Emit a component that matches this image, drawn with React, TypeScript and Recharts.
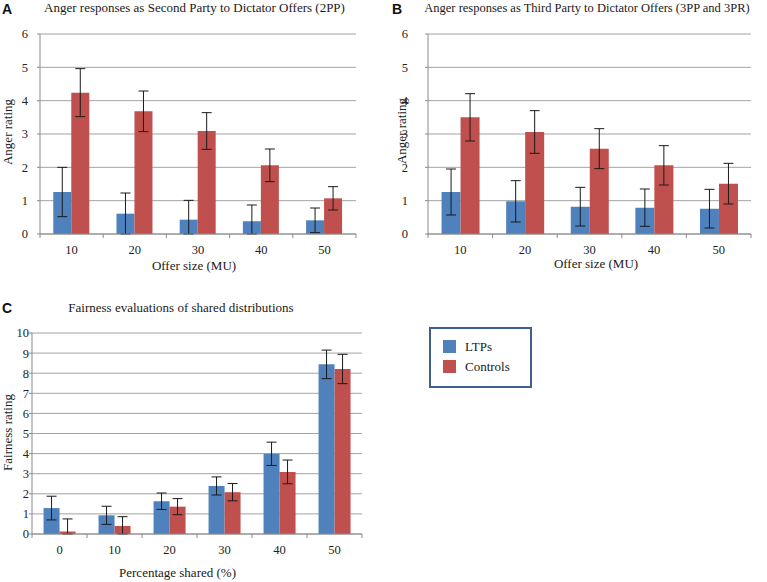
import { Bar, BarChart, CartesianGrid, ErrorBar, XAxis, YAxis } from "recharts";

const BLUE = "#4f81bd";
const RED = "#c0504d";
const GRID = "#a3a3a3";
const AXIS = "#8a8a8a";
const FONT = "'Liberation Serif', 'Times New Roman', serif";

const offerSizes = ["10", "20", "30", "40", "50"];
const sharedPct = ["0", "10", "20", "30", "40", "50"];

// A: second party anger
const ltpSecond = [1.26, 0.61, 0.43, 0.38, 0.41];
const ltpSecondErr = [0.74, 0.62, 0.58, 0.49, 0.37];
const ctrlSecond = [4.24, 3.68, 3.09, 2.06, 1.07];
const ctrlSecondErr = [0.72, 0.61, 0.55, 0.49, 0.35];

// B: third party anger
const ltpThird = [1.26, 0.98, 0.82, 0.79, 0.76];
const ltpThirdErr = [0.69, 0.62, 0.58, 0.56, 0.58];
const ctrlThird = [3.5, 3.06, 2.56, 2.06, 1.51];
const ctrlThirdErr = [0.71, 0.64, 0.6, 0.59, 0.61];

// C: fairness
const ltpFair = [1.29, 0.93, 1.63, 2.39, 3.99, 8.44];
const ltpFairErr = [0.59, 0.45, 0.41, 0.45, 0.58, 0.71];
const ctrlFair = [0.13, 0.4, 1.36, 2.08, 3.09, 8.21];
const ctrlFairErr = [0.62, 0.46, 0.4, 0.43, 0.59, 0.73];

const angerTicks = [0, 1, 2, 3, 4, 5, 6];
const fairTicks = [0, 1, 2, 3, 4, 5, 6, 7, 8, 9, 10];

function rows(cats: string[], ltp: number[], ltpErr: number[], ctrl: number[], ctrlErr: number[]) {
  return cats.map((cat, i) => ({ cat, ltp: ltp[i], ltpErr: ltpErr[i], ctrl: ctrl[i], ctrlErr: ctrlErr[i] }));
}

// whiskers stop at the axis, like the original plot
const clipped = (v: string, e: string) => (d: any) => [Math.min(d[e], d[v]), d[e]];

type PanelProps = {
  left: number;
  top: number;
  width: number;
  height: number;
  margin: { top: number; right: number; left: number; bottom: number };
  yWidth: number;
  xHeight: number;
  data: ReturnType<typeof rows>;
  yMax: number;
  ticks: number[];
  yGap: number;
};

function Panel({ left, top, width, height, margin, yWidth, xHeight, data, yMax, ticks, yGap }: PanelProps) {
  const plotW = width - margin.left - margin.right - yWidth;
  const bw = plotW / data.length;
  const n = data.length;

  const xTick = (props: any) => {
    const { x, y, payload, index } = props;
    return (
      <g>
        <line x1={x - bw / 2} x2={x - bw / 2} y1={y} y2={y + 4} stroke={AXIS} />
        {index === n - 1 && <line x1={x + bw / 2} x2={x + bw / 2} y1={y} y2={y + 4} stroke={AXIS} />}
        <text x={x} y={y + 20} textAnchor="middle" fontFamily={FONT} fontSize={12.5} fill="#222">
          {payload.value}
        </text>
      </g>
    );
  };

  return (
    <div style={{ position: "absolute", left, top }}>
      <BarChart width={width} height={height} data={data} margin={margin} barCategoryGap="21%" barGap={0}>
        <CartesianGrid vertical={false} stroke={GRID} />
        <XAxis
          dataKey="cat"
          height={xHeight}
          interval={0}
          tickSize={0}
          tickMargin={0}
          tickLine={false}
          axisLine={{ stroke: AXIS }}
          tick={xTick}
        />
        <YAxis
          type="number"
          width={yWidth}
          domain={[0, yMax]}
          ticks={ticks}
          interval={0}
          allowDataOverflow
          tickSize={3}
          tickMargin={yGap}
          axisLine={{ stroke: AXIS }}
          tickLine={{ stroke: AXIS }}
          tick={{ fontFamily: FONT, fontSize: 12.5, fill: "#222" }}
        />
        <Bar dataKey="ltp" fill={BLUE} isAnimationActive={false}>
          <ErrorBar dataKey={clipped("ltp", "ltpErr")} width={5} stroke="#1a1a1a" strokeWidth={1} direction="y" isAnimationActive={false} />
        </Bar>
        <Bar dataKey="ctrl" fill={RED} isAnimationActive={false}>
          <ErrorBar dataKey={clipped("ctrl", "ctrlErr")} width={5} stroke="#1a1a1a" strokeWidth={1} direction="y" isAnimationActive={false} />
        </Bar>
      </BarChart>
    </div>
  );
}

export default function App() {
  const txt = { fontFamily: FONT, fill: "#1a1a1a" };
  const tag = { fontFamily: "'Liberation Sans', Arial, sans-serif", fontWeight: 700, fontSize: 14, fill: "#111" };
  return (
    <div style={{ position: "absolute", left: 0, top: 0, width: 767, height: 582, background: "#fff", overflow: "hidden" }}>
      <Panel
        left={0}
        top={0}
        width={370}
        height={280}
        margin={{ top: 34, right: 14, left: 0, bottom: 0 }}
        yWidth={40}
        xHeight={46}
        data={rows(offerSizes, ltpSecond, ltpSecondErr, ctrlSecond, ctrlSecondErr)}
        yMax={6}
        ticks={angerTicks}
        yGap={9}
      />
      <Panel
        left={380}
        top={0}
        width={387}
        height={280}
        margin={{ top: 34, right: 16, left: 0, bottom: 0 }}
        yWidth={48}
        xHeight={46}
        data={rows(offerSizes, ltpThird, ltpThirdErr, ctrlThird, ctrlThirdErr)}
        yMax={6}
        ticks={angerTicks}
        yGap={17}
      />
      <Panel
        left={0}
        top={290}
        width={380}
        height={292}
        margin={{ top: 43, right: 18, left: 0, bottom: 0 }}
        yWidth={32}
        xHeight={48}
        data={rows(sharedPct, ltpFair, ltpFairErr, ctrlFair, ctrlFairErr)}
        yMax={10}
        ticks={fairTicks}
        yGap={0}
      />

      <svg width={767} height={582} style={{ position: "absolute", left: 0, top: 0, pointerEvents: "none" }}>
        <text x={2} y={13.5} {...tag}>A</text>
        <text x={392} y={13.5} {...tag}>B</text>
        <text x={2} y={313} {...tag}>C</text>

        <text x={194.5} y={12} textAnchor="middle" fontSize={13} {...txt}>
          Anger responses as Second Party to Dictator Offers (2PP)
        </text>
        <text x={587} y={12} textAnchor="middle" fontSize={12.5} {...txt}>
          Anger responses as Third Party to Dictator Offers (3PP and 3PR)
        </text>
        <text x={181} y={312} textAnchor="middle" fontSize={13} {...txt}>
          Fairness evaluations of shared distributions
        </text>

        <text x={194} y={270} textAnchor="middle" fontSize={13} {...txt}>Offer size (MU)</text>
        <text x={596} y={268} textAnchor="middle" fontSize={13} {...txt}>Offer size (MU)</text>
        <text x={177.5} y={577} textAnchor="middle" fontSize={13} {...txt}>Percentage shared (%)</text>

        <text x={11.5} y={132} textAnchor="middle" fontSize={13} transform="rotate(-90 11.5 132)" {...txt}>Anger rating</text>
        <text x={406} y={131} textAnchor="middle" fontSize={13} transform="rotate(-90 406 131)" {...txt}>Anger rating</text>
        <text x={11.5} y={432.5} textAnchor="middle" fontSize={13} transform="rotate(-90 11.5 432.5)" {...txt}>Fairness rating</text>
      </svg>

      <div
        style={{
          position: "absolute",
          left: 429,
          top: 327,
          width: 99,
          height: 57,
          border: "2px solid #3f5f8c",
          fontFamily: FONT,
          fontSize: 13,
          color: "#1a1a1a",
        }}
      >
        {[
          { name: "LTPs", color: BLUE },
          { name: "Controls", color: RED },
        ].map((item, i) => (
          <div key={item.name} style={{ position: "absolute", left: 12, top: 11 + i * 20, display: "flex", alignItems: "center" }}>
            <span style={{ width: 13, height: 13, background: item.color, display: "inline-block", marginRight: 9 }} />
            <span style={{ lineHeight: "13px" }}>{item.name}</span>
          </div>
        ))}
      </div>
    </div>
  );
}
